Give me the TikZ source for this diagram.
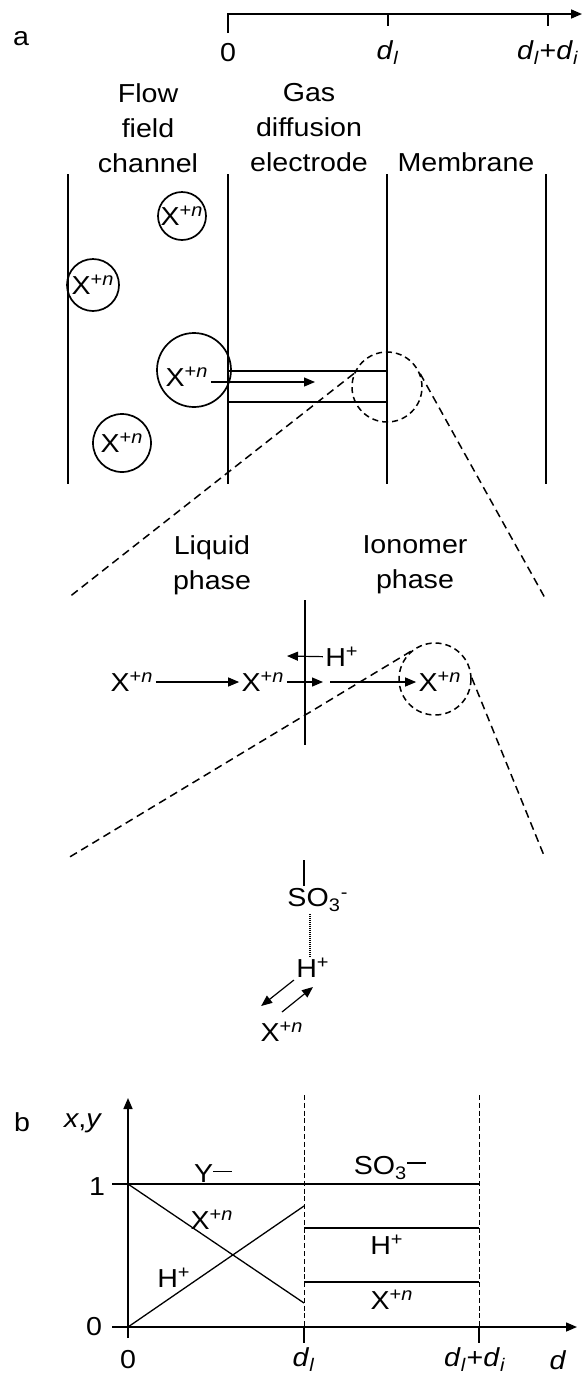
\documentclass[tikz,border=0pt]{standalone}
\usepackage{fontspec}
\setmainfont[FakeStretch=1.1]{Liberation Sans}
\usetikzlibrary{arrows.meta, positioning}
\newcommand{\Xn}{X\textsuperscript{+\textit{n}}}
\newcommand{\Hp}{H\textsuperscript{+}}
\newcommand{\dl}{\textit{d}\textsubscript{\textit{l}}}
\newcommand{\di}{\textit{d}\textsubscript{\textit{i}}}
\newcommand{\chargedash}{\rule[0.42em]{0.72em}{0.055em}}

\begin{document}
\begin{tikzpicture}[
      x=0.5pt, y=-0.5pt,
      >={Triangle[length=5.5pt, width=4.5pt]},
      font=\fontsize{13}{17.5}\selectfont,
      txt/.style={inner sep=1pt, align=center},
      wall/.style={line width=1pt},
      ion/.style={draw, circle, line width=0.85pt, inner sep=0pt},
      zoomring/.style={draw, circle, dash pattern=on 3pt off 2pt, line width=0.75pt, inner sep=0pt},
      fan/.style={dash pattern=on 4pt off 2.5pt, line width=0.75pt},
      flux/.style={->, line width=0.6pt},
      hbond/.style={dash pattern=on 0.5pt off 0.5pt, line width=0.7pt},
      axisline/.style={line width=0.8pt},
      plotline/.style={line width=0.65pt},
      guide/.style={dash pattern=on 2.5pt off 1.4pt, line width=0.5pt}
    ]
    \useasboundingbox (0,0) rectangle (587,1377);

    \node[txt] (tagA) at (21,39) {a};

    \coordinate (ax0) at (228,14);
    \coordinate (axL) at (388,14);
    \coordinate (axI) at (548,14);
    \coordinate (axEnd) at (582,14);
    \draw[axisline, ->] ([yshift=-9.5pt]ax0) -- (ax0) -- (axEnd);
    \draw[axisline] (axL) -- ++(0,12);
    \draw[axisline] (axI) -- ++(0,12);
    \node[txt] (pos0) at (228,53) {0};
    \node[txt] (posL) at (388,53) {\dl};
    \node[txt] (posI) at (548,53) {\dl+\di};

    \node[txt] (hdFlow) at (148,128) {Flow\\field\\channel};
    \node[txt] (hdGas) at (309,128) {Gas\\diffusion\\electrode};
    \node[txt] (hdMem) at (466,162) {Membrane};

    \foreach \wx in {68,228,387,546}
      \draw[wall] (\wx,174) -- (\wx,484);

    \node[ion, minimum size=24pt] (ionA) at (182,216) {\Xn};
    \node[ion, minimum size=26pt] (ionB) at (93,285) {\Xn};
    \node[ion, minimum size=37pt] (ionC) at (194,370) {};
    \node[ion, minimum size=29pt] (ionD) at (122,443) {\Xn};
    \node[txt] (xC) at (187,377) {\Xn};

    \draw[wall] (228,371) -- (387,371);
    \draw[wall] (228,402) -- (387,402);
    \coordinate (poreTip) at (315,382);
    \draw[flux] ([yshift=-2.5pt]xC.east) -- (poreTip);

    \node[zoomring, minimum size=35pt] (ringA) at (387,387) {};
    \coordinate (fanAL) at (68,598);
    \coordinate (fanAR) at (545,598);
    \draw[fan] (ringA.158) -- (fanAL);
    \draw[fan] (ringA.22) -- (fanAR);

    \node[txt] (liq) at (212,565) {Liquid\\phase};
    \node[txt] (iono) at (415,565) {Ionomer\\phase};
    \draw[line width=1.35pt] (305,600) -- (305,745);

    \node[txt] (xL) at (132,682) {\Xn};
    \node[txt] (xM) at (263,682) {\Xn};
    \node[zoomring, minimum size=36pt] (ringB) at (435,679) {};
    \node[txt] (xR) at (440,682) {\Xn};
    \node[txt] (hI) at (342,657) {\Hp};
    \coordinate (crossA) at (323,682);
    \coordinate (crossB) at (330,682);
    \coordinate (hTail) at (287,656);
    \draw[flux] (xL) -- (xM);
    \draw[flux] (xM) -- (crossA);
    \draw[flux] (crossB) -- (xR);
    \draw[flux] (hI) -- (hTail);

    \coordinate (fanBL) at (68,858);
    \coordinate (fanBR) at (545,858);
    \draw[fan] (ringB.131) -- (fanBL);
    \draw[fan] (ringB.2) -- (fanBR);

    \node[txt] (so3) at (318,900) {SO\textsubscript{3}\textsuperscript{-}};
    \node[txt] (hb) at (313,968) {\Hp};
    \node[txt] (xb) at (282,1032) {\Xn};
    \coordinate (bondTop) at (304,860);
    \draw[plotline] (bondTop) -- (bondTop |- so3.north);
    \draw[hbond] ([xshift=-4pt]so3.south) -- ([xshift=-4pt]so3.south |- hb.north);
    \draw[flux] (hb.south west) -- ([xshift=1.5pt, yshift=7pt]xb.north west);
    \draw[flux] ([yshift=4pt]xb.north) -- ([yshift=-3.5pt]hb.south);

    \node[txt] (tagB) at (22,1122) {b};
    \node[txt] (lblXY) at (83,1123) {\textit{x},\textit{y}};

    \coordinate (orig) at (128,1327);
    \coordinate (yTop) at (128,1098);
    \coordinate (xEnd) at (577,1327);
    \coordinate (dL) at (304,1327);
    \coordinate (dI) at (479,1327);
    \draw[axisline, ->] (128,1338) -- (yTop);
    \draw[axisline, ->] (112,1327) -- (xEnd);
    \draw[axisline] (dL) -- ++(0,16);
    \draw[axisline] (dI) -- ++(0,16);
    \draw[guide] (304,1095) -- (dL);
    \draw[guide] (479,1095) -- (dI);

    \draw[plotline] (112,1184) -- (479,1184);
    \draw[plotline] (128,1184) -- (304,1303);
    \draw[plotline] (orig) -- (304,1206);
    \draw[plotline] (304,1228) -- (479,1228);
    \draw[plotline] (304,1282) -- (479,1282);

    \node[txt] (yOne) at (97,1187) {1};
    \node[txt] (yZero) at (94,1327) {0};
    \node[txt] (xZero) at (128,1360) {0};
    \node[txt] (xdl) at (304,1360) {\dl};
    \node[txt] (xdi) at (475,1360) {\dl+\di};
    \node[txt] (xd) at (558,1360) {\textit{d}};

    \node[txt] (cY) at (213,1174) {Y\chargedash};
    \node[txt] (cSO) at (390,1168) {SO\textsubscript{3}\chargedash};
    \node[txt] (cXa) at (212,1220) {\Xn};
    \node[txt] (cHa) at (174,1278) {\Hp};
    \node[txt] (cHb) at (387,1245) {\Hp};
    \node[txt] (cXb) at (392,1300) {\Xn};

  \end{tikzpicture}
\end{document}
